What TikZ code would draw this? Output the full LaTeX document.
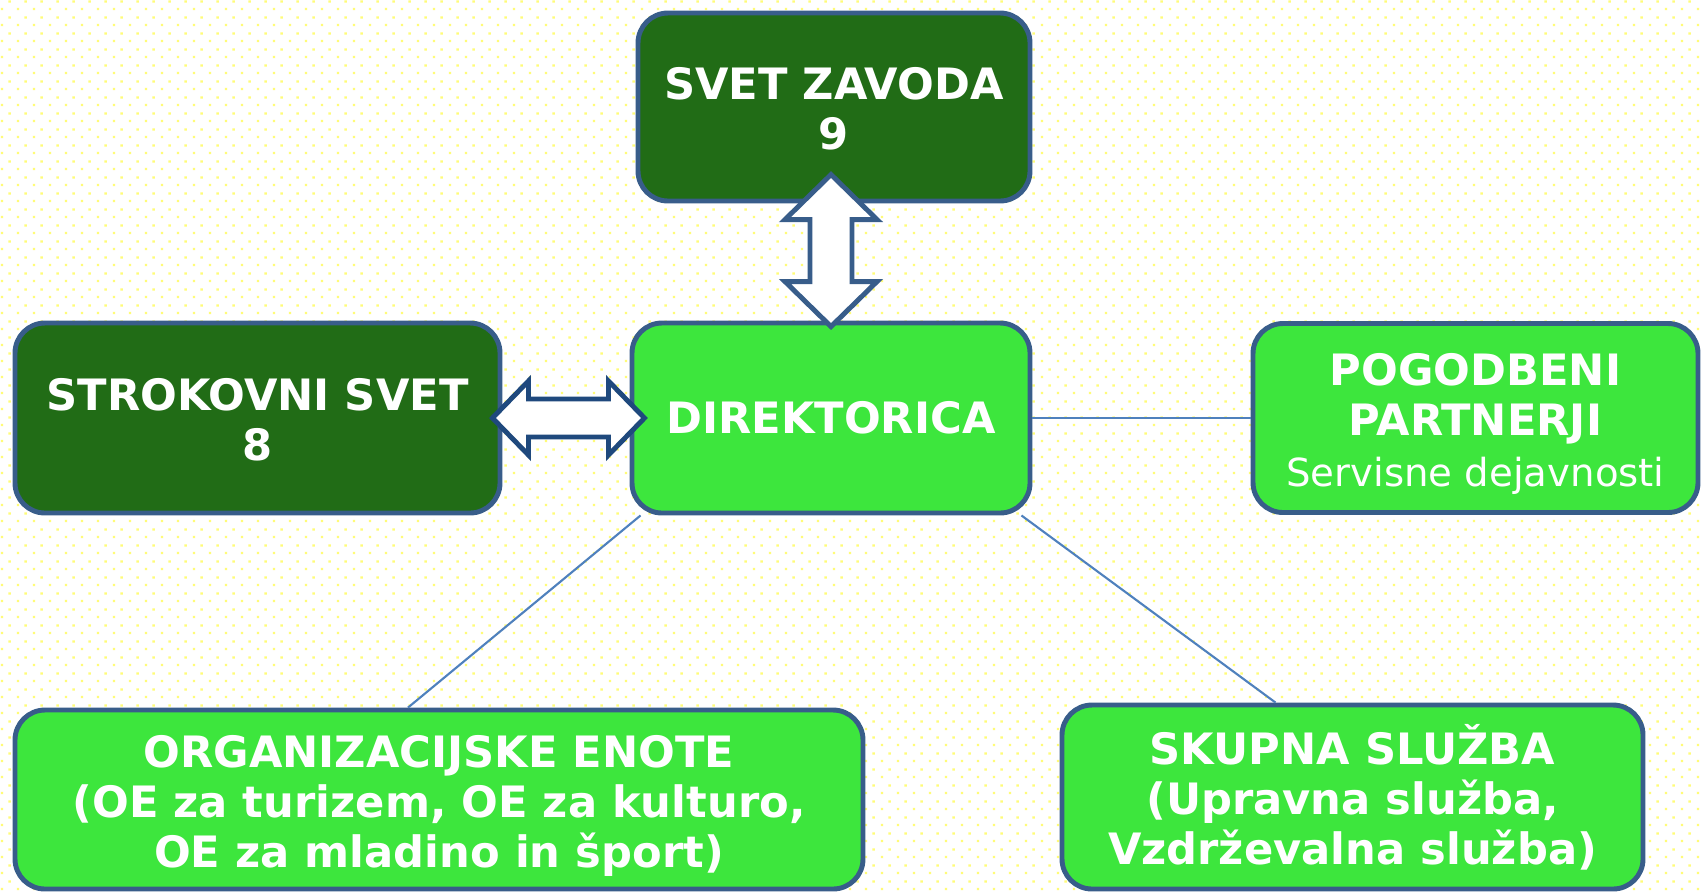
\documentclass[tikz,border=0pt]{standalone}
\usepackage{fontspec}
\setmainfont{DejaVu Sans}
\usetikzlibrary{calc,patterns.meta}

\definecolor{darkgreen}{RGB}{33,108,22}
\definecolor{lightgreen}{RGB}{61,230,61}
\definecolor{boxborder}{RGB}{56,93,138}
\definecolor{arrowborder}{RGB}{31,73,125}
\definecolor{linkblue}{RGB}{79,129,189}
\definecolor{dotyellow}{RGB}{255,252,120}

\tikzdeclarepattern{
  name=yellowdots,
  type=uncolored,
  bounding box={(0,0) and (1.6mm,1.6mm)},
  tile size={(1.6mm,1.6mm)},
  code={
    \fill (0.2mm,0.4mm) rectangle (0.45mm,0.65mm);
    \fill (1.0mm,1.2mm) rectangle (1.25mm,1.45mm);
  }
}

\begin{document}
\begin{tikzpicture}[x=0.1mm,y=-0.1mm,
  box/.style={draw=boxborder, line width=1.4pt, rounded corners=3mm, text=white,
    align=center, inner sep=0pt, font=\fontsize{12.3}{14.3}\selectfont\bfseries},
  dark/.style={box, fill=darkgreen},
  light/.style={box, fill=lightgreen},
  link/.style={draw=linkblue, line width=0.6pt},
  fat/.style={fill=white, line width=1.4pt, line join=miter}]

\useasboundingbox (0,0) rectangle (1702,893);
\fill[white] (0,0) rectangle (1702,893);
\fill[pattern=yellowdots, pattern color=dotyellow] (0,0) rectangle (1702,893);

\node[dark, minimum width=39.2mm, minimum height=18.8mm] (zavod) at (834,107)
  {\rule{0pt}{10pt}SVET ZAVODA\\9};
\node[light, minimum width=39.8mm, minimum height=19.0mm] (dir) at (831,418) {DIREKTORICA};
\node[dark, minimum width=48.5mm, minimum height=19.0mm] (strok) at (257.5,418)
  {\rule{0pt}{10pt}STROKOVNI SVET\\8};
\node[light, minimum width=44.5mm, minimum height=18.9mm] (pog) at (1475.5,418)
  {\rule{0pt}{12.5pt}POGODBENI\\PARTNERJI\\{\mdseries\fontsize{11}{13}\selectfont Servisne dejavnosti}};
\node[light, minimum width=84.8mm, minimum height=17.9mm] (org) at (439,799.5)
  {\rule{0pt}{12.8pt}ORGANIZACIJSKE ENOTE\\(OE za turizem, OE za kulturo,\\OE za mladino in šport)};
\node[light, minimum width=58.1mm, minimum height=18.4mm] (skup) at (1352.5,797)
  {\rule{0pt}{11.5pt}SKUPNA SLUŽBA\\(Upravna služba,\\Vzdrževalna služba)};

\path[link] (dir.east) -- (pog.west);
\path[link] ([xshift=1.1mm]dir.south west) -- ([xshift=-3.1mm]org.north);
\path[link] ([xshift=-1.1mm]dir.south east) -- ([xshift=-7.7mm]skup.north);

% double arrows
\draw[fat, draw=boxborder] ($(dir.north)+(0,6)$) -- ++(46,-45) -- ++(-25,0) -- ++(0,-62)
  -- ++(25,0) -- ++(-46,-45) -- ++(-46,45) -- ++(25,0) -- ++(0,62) -- ++(-25,0) -- cycle;
\draw[fat, draw=arrowborder] ($(strok.east)+(-10,0)$) -- ++(36,-37) -- ++(0,18) -- ++(80,0)
  -- ++(0,-18) -- ++(36,37) -- ++(-36,37) -- ++(0,-18) -- ++(-80,0) -- ++(0,18) -- cycle;
\end{tikzpicture}
\end{document}
